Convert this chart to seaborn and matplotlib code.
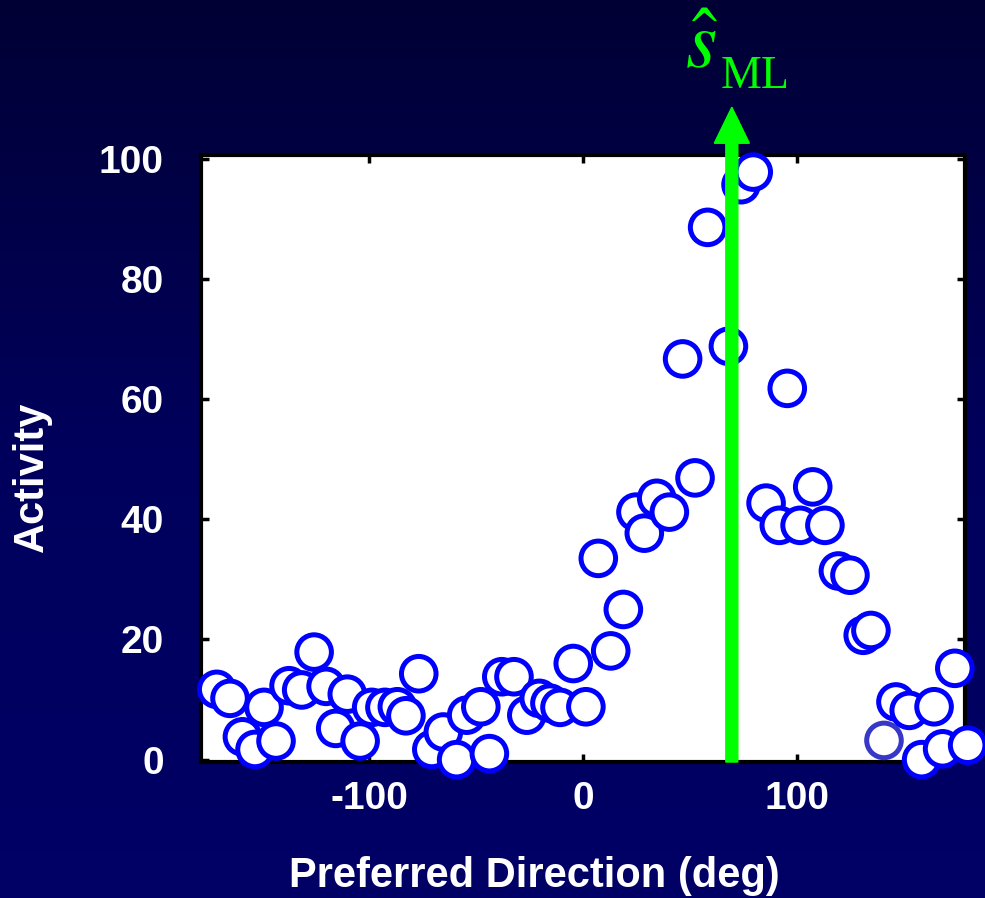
import numpy as np
import pandas as pd
import seaborn as sns
import matplotlib.pyplot as plt
from matplotlib.colors import LinearSegmentedColormap

# preferred direction of each cell (deg) and its activity
direction = [-171.3, -165.1, -159.3, -153.4, -149.2, -143.6, -137.5, -131.6, -125.8, -120.2,
             -115.7, -110.3, -104.3, -98.9, -92.7, -86.9, -82.9, -76.9, -70.8, -65.4,
             -59.2, -54.5, -47.9, -43.9, -38.1, -32.4, -26.4, -20.6, -15.6, -10.9,
             -4.7, 1.2, 7.0, 12.8, 18.7, 24.6, 28.5, 34.3, 40.2, 46.4,
             52.2, 58.1, 67.8, 73.7, 79.4, 85.4, 91.6, 95.3, 101.3, 107.2,
             112.9, 119.2, 124.6, 130.8, 134.4, 140.5, 146.1, 152.3, 158.1, 163.9,
             167.9, 173.6, 179.6]
activity = [11.7, 10.2, 3.8, 1.7, 8.7, 3.1, 12.3, 11.6, 17.9, 12.2,
            5.2, 10.9, 3.1, 8.7, 8.7, 8.8, 7.3, 14.3, 1.7, 4.6,
            0.0, 7.4, 8.8, 1.0, 13.8, 13.8, 7.4, 10.2, 9.4, 8.7,
            16.0, 8.8, 33.5, 18.1, 25.0, 41.2, 37.7, 43.5, 41.2, 66.7,
            46.9, 88.6, 68.8, 95.7, 97.8, 42.7, 39.0, 61.8, 39.0, 45.4,
            39.0, 31.4, 30.7, 20.7, 21.5, 3.2, 9.6, 8.2, 0.0, 8.8,
            1.8, 15.2, 2.4]
dimmed_cell = 140.5   # this one is drawn in a paler blue
s_ml = 69.4           # maximum likelihood estimate

xticks = [-100, 0, 100]
yticks = [0, 20, 40, 60, 80, 100]

green = '#00ff00'

sns.set_theme(style='ticks')
plt.rcParams['font.family'] = ['Liberation Sans', 'DejaVu Sans']
plt.rcParams['mathtext.fontset'] = 'stix'
plt.rcParams['axes.unicode_minus'] = False

fig = plt.figure(figsize=(9.85, 8.98), dpi=100)

# dark blue gradient backdrop
bg = fig.add_axes([0, 0, 1, 1], zorder=-10)
grad = np.linspace(0, 1, 256)[:, None]
cmap = LinearSegmentedColormap.from_list('bg', ['#000035', '#00005c', '#000066'])
bg.imshow(grad, aspect='auto', cmap=cmap, extent=[0, 1, 0, 1], origin='upper')
bg.axis('off')

ax = fig.add_axes([0.2044, 0.1514, 0.7756, 0.6757])
ax.set_facecolor('white')

df = pd.DataFrame({'direction': direction, 'activity': activity})
edges = ['#3838c8' if d == dimmed_cell else '#0000ff' for d in direction]
sns.scatterplot(data=df, x='direction', y='activity', ax=ax, color='white',
                edgecolor=edges, s=620, linewidth=3.6, legend=False,
                clip_on=False, zorder=3)

ax.set_xlim(-178.5, 178.5)
ax.set_ylim(-0.4, 100.6)
ax.set_xticks(xticks)
ax.set_yticks(yticks)
ax.tick_params(direction='in', top=True, right=True, length=6, width=2.5,
               color='black', labelcolor='white', labelsize=28)
ax.tick_params(axis='x', pad=14)
ax.tick_params(axis='y', pad=27)
for lbl in ax.get_xticklabels() + ax.get_yticklabels():
    lbl.set_fontweight('bold')
for sp in ax.spines.values():
    sp.set_linewidth(3)
    sp.set_color('black')

ax.set_xlabel('Preferred Direction (deg)', fontsize=30, fontweight='bold', color='white')
ax.xaxis.set_label_coords(0.4355, -0.1545)
ax.set_ylabel('Activity', fontsize=30, fontweight='bold', color='white')
ax.yaxis.set_label_coords(-0.1954, 0.4695)

# arrow marking the ML estimate
ax.arrow(s_ml, -0.4, 0, 109.0, width=5.6, head_width=16.4, head_length=6.0,
         length_includes_head=True, color=green, clip_on=False, zorder=5)
ax.annotate(r'$\hat{s}$', xy=(s_ml, 108.6), xytext=(-21.6, 27.9),
            textcoords='offset points', ha='center', va='baseline',
            color=green, fontsize=58, annotation_clip=False)
ax.annotate('ML', xy=(s_ml, 108.6), xytext=(-8.3, 13.5),
            textcoords='offset points', ha='left', va='baseline',
            color=green, fontsize=33, family='Liberation Serif', annotation_clip=False)

fig.savefig('out.png', dpi=100)
